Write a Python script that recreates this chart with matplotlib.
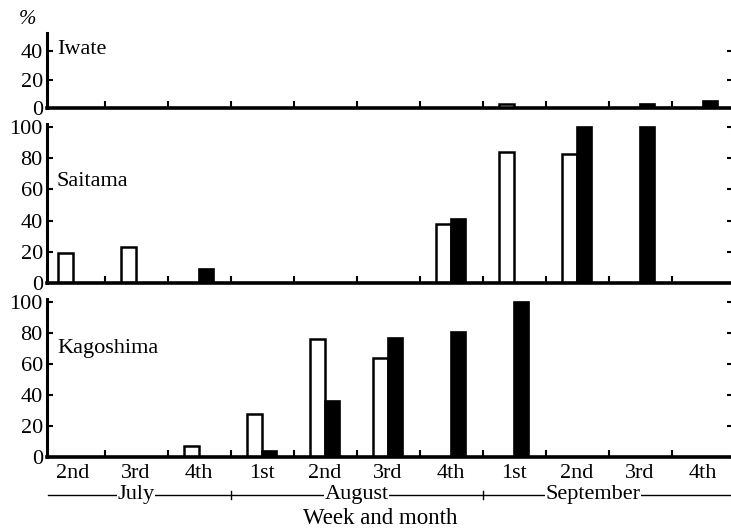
#!/usr/bin/env python3
# -*- coding: utf-8 -*-
"""
Weekly occurrence (%) in three prefectures, open vs. solid bars,
drawn as three stacked panels sharing the week/month axis.
"""

import numpy as np
import matplotlib
matplotlib.use('Agg')
import matplotlib.pyplot as plt
import matplotlib.transforms as mtransforms

# Data
WEEKS = ['2nd', '3rd', '4th', '1st', '2nd', '3rd', '4th', '1st', '2nd', '3rd', '4th']
MONTHS = ['July', 'August', 'September']
MONTH_SPANS = [(0, 2), (3, 6), (7, 10)]   # first and last week index of each month

iwate_open = [0, 0, 0, 0, 0, 0, 0, 3, 0, 0, 0]
iwate_solid = [0, 0, 0, 0, 0, 0, 0, 0, 0, 3, 5]

saitama_open = [19, 23, 0, 0, 0, 0, 38, 84, 83, 0, 0]
saitama_solid = [0, 0, 9, 0, 0, 0, 41, 0, 100, 100, 0]

kagoshima_open = [0, 0, 7, 28, 76, 64, 0, 0, 0, 0, 0]
kagoshima_solid = [0, 0, 0, 4, 36, 77, 81, 100, 0, 0, 0]

# Figure geometry (pixels of the 731x529 output)
W_PX, H_PX = 731, 529
AX_LEFT_PX, AX_RIGHT_PX = 47, 733
BAR_W = 0.24
XLIM = (-0.413, 10.476)
FONT = ['Liberation Serif', 'DejaVu Serif']
FS = 16

plt.rcParams['font.family'] = FONT
plt.rcParams['font.size'] = FS


def fx(px):
    return px / W_PX


def fy(px):
    return 1 - px / H_PX


def add_panel(fig, top_px, bottom_px, ymax, yticks, open_vals, solid_vals, name, name_y_px):
    ax = fig.add_axes([fx(AX_LEFT_PX), fy(bottom_px),
                       fx(AX_RIGHT_PX - AX_LEFT_PX), (bottom_px - top_px) / H_PX])
    x = np.arange(len(WEEKS))
    for xi, v in zip(x, open_vals):
        if v > 0:
            ax.bar(xi - BAR_W / 2, v, BAR_W, color='white', edgecolor='black',
                   linewidth=1.8, zorder=2)
    for xi, v in zip(x, solid_vals):
        if v > 0:
            ax.bar(xi + BAR_W / 2, v, BAR_W, color='black', edgecolor='black',
                   linewidth=1.2, zorder=2)

    ax.set_xlim(*XLIM)
    ax.set_ylim(0, ymax)
    ax.set_yticks(yticks)
    ax.set_xticks(x)
    ax.set_xticklabels([])
    ax.set_xticks(x[:-1] + 0.5, minor=True)

    for s in ['top', 'right']:
        ax.spines[s].set_visible(False)
    ax.spines['left'].set_linewidth(2.2)
    ax.spines['bottom'].set_linewidth(2.6)
    ax.spines['bottom'].set_zorder(3)

    ax.tick_params(axis='y', direction='in', length=4, width=1.5, pad=3,
                   labelsize=FS, right=True)
    ax.tick_params(axis='x', which='major', length=0)
    ax.tick_params(axis='x', which='minor', direction='in', length=5, width=1.5)

    fig.text(fx(57), fy(name_y_px), name, ha='left', va='center', fontsize=FS)
    return ax


def main():
    fig = plt.figure(figsize=(W_PX / 100, H_PX / 100), dpi=100)

    add_panel(fig, 33, 108, 53, [0, 20, 40], iwate_open, iwate_solid, 'Iwate', 49)
    add_panel(fig, 124, 283, 102, [0, 20, 40, 60, 80, 100],
              saitama_open, saitama_solid, 'Saitama', 182)
    ax = add_panel(fig, 299, 457, 102, [0, 20, 40, 60, 80, 100],
                   kagoshima_open, kagoshima_solid, 'Kagoshima', 349)

    fig.text(fx(28), fy(19), '%', ha='center', va='center', fontsize=FS - 1,
             style='italic')

    # week labels and month bracket line under the bottom panel
    trans = mtransforms.blended_transform_factory(ax.transData, fig.transFigure)
    for i, w in enumerate(WEEKS):
        ax.text(i, fy(474), w, transform=trans, ha='center', va='center', fontsize=FS)

    line_y = fy(495)
    ax.plot([XLIM[0] + 0.02, XLIM[1]], [line_y, line_y], color='black', lw=1.0,
            transform=trans, clip_on=False)
    for b in [2.5, 6.5]:
        ax.plot([b, b], [line_y - 0.008, line_y + 0.008], color='black', lw=1.0,
                transform=trans, clip_on=False)
    for m, (a, b) in zip(MONTHS, MONTH_SPANS):
        cx = (a + b) / 2
        if m == 'September':
            cx -= 0.25
        ax.text(cx, line_y, m, transform=trans, ha='center', va='center', fontsize=FS,
                bbox=dict(facecolor='white', edgecolor='none', pad=0.5))

    fig.text(fx(380), fy(518), 'Week and month', ha='center', va='center',
             fontsize=FS + 0.5)

    fig.savefig('out.png', dpi=100)


if __name__ == '__main__':
    main()
